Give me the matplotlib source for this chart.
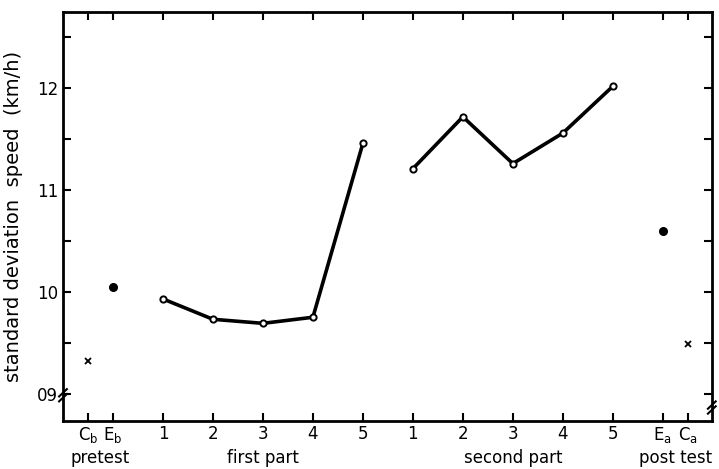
import numpy as np
import matplotlib.pyplot as plt
from matplotlib.ticker import FixedLocator

# values (standard deviation of speed, km/h)
pre_labels = [r'$\mathrm{C_b}$', r'$\mathrm{E_b}$']
pre_values = [9.32, 10.05]
part_labels = ['1', '2', '3', '4', '5']
first_part = [9.93, 9.73, 9.69, 9.75, 11.46]
second_part = [11.21, 11.72, 11.26, 11.56, 12.02]
post_labels = [r'$\mathrm{E_a}$', r'$\mathrm{C_a}$']
post_values = [10.60, 9.49]
groups = ['pretest', 'first part', 'second part', 'post test']
ytick_vals = [9, 10, 11, 12]
ytick_labels = ['09', '10', '11', '12']

# x positions along the axis
x_pre = np.array([0.0, 0.5])
x_first = np.arange(len(first_part)) + 1.5
x_second = np.arange(len(second_part)) + 6.5
x_post = np.array([11.5, 12.0])

fig = plt.figure(figsize=(7.19, 4.69), dpi=100)
ax = fig.add_axes([0.0876, 0.1023, 0.9024, 0.8721])

lw = 2.6
ax.plot(x_first, first_part, '-', color='black', lw=lw,
        marker='o', ms=4.5, mfc='white', mec='black', mew=1.4)
ax.plot(x_second, second_part, '-', color='black', lw=lw,
        marker='o', ms=4.5, mfc='white', mec='black', mew=1.4)

# pretest / post test: E = filled dot, C = cross
ax.plot(x_pre[1], pre_values[1], 'o', color='black', ms=5.5)
ax.plot(x_post[0], post_values[0], 'o', color='black', ms=5.5)
ax.plot(x_pre[0], pre_values[0], 'x', color='black', ms=4, mew=1.3)
ax.plot(x_post[1], post_values[1], 'x', color='black', ms=4, mew=1.3)

ax.set_xlim(-0.5, 12.48)
ax.set_ylim(8.73, 12.75)

xt = np.concatenate([x_pre, x_first, x_second, x_post])
xl = pre_labels + part_labels + part_labels + post_labels
ax.set_xticks(xt)
ax.set_xticklabels(xl, fontsize=12)
ax.set_yticks(ytick_vals)
ax.set_yticklabels(ytick_labels, fontsize=12)
ax.yaxis.set_minor_locator(FixedLocator([8.5, 9.5, 10.5, 11.5, 12.5]))

ax.tick_params(which='both', direction='in', top=True, right=True,
               width=1.5, color='black')
ax.tick_params(which='major', length=6)
ax.tick_params(axis='x', which='major', pad=3)
ax.tick_params(which='minor', length=6)
for s in ax.spines.values():
    s.set_linewidth(2)

ax.set_ylabel('standard deviation  speed  (km/h)', fontsize=14, labelpad=10)

# group labels under the tick labels
group_x = [0.25, 3.5, 8.5, 11.75]
for gx, g in zip(group_x, groups):
    ax.text(gx, -0.102, g, transform=ax.get_xaxis_transform(),
            ha='center', va='baseline', fontsize=12)

# axis break marks
for xf, yf in [(0.0, 0.06), (1.0, 0.03)]:
    for dy in (0.0, 0.012):
        ax.plot([xf - 0.006, xf + 0.006], [yf - 0.012 + dy, yf + 0.006 + dy],
                transform=ax.transAxes, color='black', lw=1.5, clip_on=False)

fig.savefig('out.png', dpi=100)
